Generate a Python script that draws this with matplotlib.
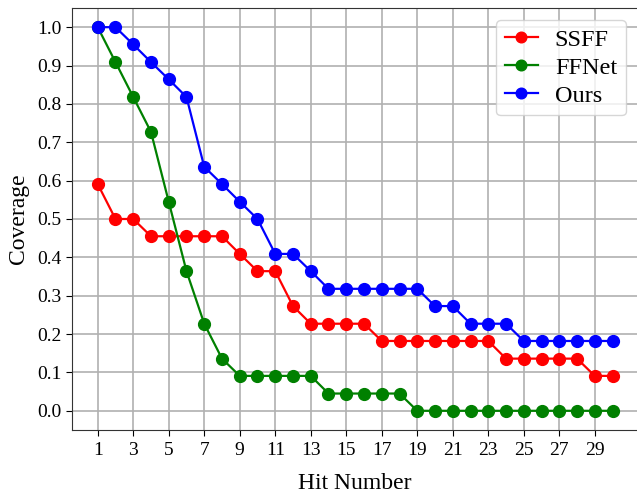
import matplotlib
matplotlib.use('Agg')
import matplotlib.pyplot as plt
import numpy as np

plt.rcParams['font.family'] = ['Liberation Serif', 'DejaVu Serif']
plt.rcParams['mathtext.fontset'] = 'stix'

hits = list(range(1, 31))
ssff = [0.591, 0.500, 0.500, 0.455, 0.455, 0.455, 0.455, 0.455, 0.409, 0.364,
        0.364, 0.273, 0.227, 0.227, 0.227, 0.227, 0.182, 0.182, 0.182, 0.182,
        0.182, 0.182, 0.182, 0.136, 0.136, 0.136, 0.136, 0.136, 0.091, 0.091]
ffnet = [1.000, 0.909, 0.818, 0.727, 0.545, 0.364, 0.227, 0.136, 0.091, 0.091,
         0.091, 0.091, 0.091, 0.045, 0.045, 0.045, 0.045, 0.045, 0.000, 0.000,
         0.000, 0.000, 0.000, 0.000, 0.000, 0.000, 0.000, 0.000, 0.000, 0.000]
ours = [1.000, 1.000, 0.955, 0.909, 0.864, 0.818, 0.636, 0.591, 0.545, 0.500,
        0.409, 0.409, 0.364, 0.318, 0.318, 0.318, 0.318, 0.318, 0.318, 0.273,
        0.273, 0.227, 0.227, 0.227, 0.182, 0.182, 0.182, 0.182, 0.182, 0.182]
xticks = list(range(1, 31, 2))
yticks = [0.0, 0.1, 0.2, 0.3, 0.4, 0.5, 0.6, 0.7, 0.8, 0.9, 1.0]

fig = plt.figure(figsize=(6.37, 4.94), dpi=100)
ax = fig.add_axes([0.113, 0.1296, 0.889, 0.8542])

ax.plot(hits, ssff, '-o', color='red', lw=1.6, ms=8.5, label='SSFF')
ax.plot(hits, ffnet, '-o', color='green', lw=1.6, ms=8.5, label='FFNet')
ax.plot(hits, ours, '-o', color='blue', lw=1.6, ms=8.5, label='Ours')

ax.set_xticks(xticks)
ax.set_yticks(yticks)
ax.set_yticklabels(['%.1f' % v for v in yticks])
ax.tick_params(labelsize=14, length=4)
ax.tick_params(axis='x', pad=5)
ax.grid(True, color='#b0b0b0', lw=1.2)
ax.set_xlabel('Hit Number', fontsize=17, labelpad=10)
ax.set_ylabel('Coverage', fontsize=17, labelpad=6)
for s in ax.spines.values():
    s.set_color('#333333')
ax.legend(fontsize=17.5, loc='upper right', bbox_to_anchor=(0.999, 1.0),
          handlelength=1.35, borderpad=0.35, labelspacing=0.25, markerscale=0.9,
          handletextpad=0.7)

plt.savefig('out.png', dpi=100)
